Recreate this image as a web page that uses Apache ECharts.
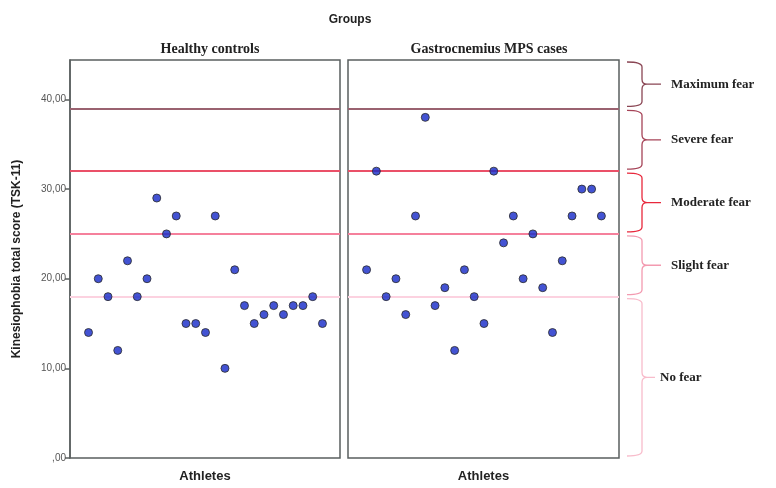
<!DOCTYPE html>
<html><head><meta charset="utf-8">
<script src="https://cdn.jsdelivr.net/npm/echarts@6/dist/echarts.min.js"></script>
<style>html,body{margin:0;padding:0;background:#fff}#c{width:776px;height:488px}</style>
</head><body><div id="c"></div>
<script>
const panels = ['Healthy controls', 'Gastrocnemius MPS cases'];
const athleteIndex = [1,2,3,4,5,6,7,8,9,10,11,12,13,14,15,16,17,18,19,20,21,22,23,24,25];
const healthyScores = [14,20,18,12,22,18,20,29,25,27,15,15,14,27,10,21,17,15,16,17,16,17,17,18,15];
const mpsScores = [21,32,18,20,16,27,38,17,19,12,21,18,15,32,24,27,20,25,19,14,22,27,30,30,27];
const yTicks = [0,10,20,30,40];
const thresholds = [39,32,25,18];
const thresholdColors = ['#9a6270','#ea5068','#f5809c','#fcd2e0'];
const fearBands = [
  {name:'Maximum fear', lo:39, hi:44.4, color:'#8a4654'},
  {name:'Severe fear', lo:32, hi:39, color:'#a64458'},
  {name:'Moderate fear', lo:25, hi:32, color:'#e8283c'},
  {name:'Slight fear', lo:18, hi:25, color:'#f39ab0'},
  {name:'No fear', lo:0, hi:18, color:'#f8bccb'}
];

const chart = echarts.init(document.getElementById('c'));
const pts = arr => arr.map((v,i)=>[athleteIndex[i], v]);
const markLine = {
  silent:true, symbol:'none', label:{show:false}, z:2,
  data: thresholds.map((t,i)=>({yAxis:t, lineStyle:{color:thresholdColors[i], width:2, type:'solid', opacity:1}}))
};
const grids = [
  {left:70, top:60, width:270, height:403, show:true, borderColor:'#5a5f5f', borderWidth:1.5, backgroundColor:'#fff'},
  {left:348, top:60, width:271, height:403, show:true, borderColor:'#5a5f5f', borderWidth:1.5, backgroundColor:'#fff'}
];
const xAxes = [0,1].map(i=>({
  type:'value', gridIndex:i, min:-0.9, max:26.8,
  axisLine:{show:false, onZero:false}, axisTick:{show:false}, axisLabel:{show:false}, splitLine:{show:false},
  name:'Athletes', nameLocation:'middle', nameGap:12,
  nameTextStyle:{fontFamily:'Liberation Sans', fontWeight:'bold', fontSize:13, color:'#222'}
}));
const yAxes = [0,1].map(i=>({
  type:'value', gridIndex:i, min:0, max:44.4, interval:10,
  axisLine:{show:i===0, onZero:false, lineStyle:{color:'#5a5f5f', width:1.5}},
  axisTick:{show:i===0, length:5, lineStyle:{color:'#5a5f5f', width:1.5}},
  axisLabel:{show:i===0, showMaxLabel:false, fontFamily:'Liberation Sans', fontSize:10, color:'#555', margin:4,
    formatter: v => yTicks.includes(v) ? (v===0 ? ',00' : v.toFixed(2).replace('.',',')) : ''},
  splitLine:{show:false},
  name: i===0 ? 'Kinesiophobia total score (TSK-11)' : '',
  nameLocation:'middle', nameGap:47, nameRotate:90,
  nameTextStyle:{fontFamily:'Liberation Sans', fontWeight:'bold', fontSize:12, color:'#222'}
}));
const scatterStyle = {color:'#1428c8', borderColor:'#2a2a2a', borderWidth:1};
const braceSeries = {
  type:'custom', xAxisIndex:1, yAxisIndex:1, clip:false, silent:true, z:5,
  data: fearBands.map(b=>[0, b.lo, b.hi]),
  encode:{x:0, y:[1,2]},
  renderItem:(params, api)=>{
    const b = fearBands[params.dataIndex];
    const cs = params.coordSys;
    const top = api.coord([0, api.value(2)])[1] + 2;
    const bot = api.coord([0, api.value(1)])[1] - 2;
    const mid = (top+bot)/2;
    const x0 = cs.x + cs.width + 8, x1 = x0 + 15, r = 5, xt = x1 + (b.name==='No fear' ? 13 : 19);
    const d = `M${x0},${top} Q${x1},${top} ${x1},${top+r} L${x1},${mid-r} Q${x1},${mid} ${x1+r},${mid} L${xt},${mid} M${x1+r},${mid} Q${x1},${mid} ${x1},${mid+r} L${x1},${bot-r} Q${x1},${bot} ${x0},${bot}`;
    return {type:'group', children:[
      {type:'path', shape:{pathData:d}, style:{fill:null, stroke:b.color, lineWidth:1.3}},
      {type:'text', style:{x:xt+ (b.name==='No fear'?5:10), y:mid, text:b.name, fill:'#222', font:'bold 13px "Liberation Serif"', verticalAlign:'middle', align:'left'}}
    ]};
  }
};
chart.setOption({
  animation:false,
  backgroundColor:'#fff',
  title:[
    {text:'Groups', left:345, top:9, textAlign:'center', textStyle:{fontFamily:'Liberation Sans', fontWeight:'bold', fontSize:12, color:'#222'}},
    {text:panels[0], left:205, top:37, textAlign:'center', textStyle:{fontFamily:'Liberation Serif', fontWeight:'bold', fontSize:14, color:'#222'}},
    {text:panels[1], left:484, top:37, textAlign:'center', textStyle:{fontFamily:'Liberation Serif', fontWeight:'bold', fontSize:14, color:'#222'}}
  ],
  grid:grids, xAxis:xAxes, yAxis:yAxes,
  series:[
    {type:'scatter', xAxisIndex:0, yAxisIndex:0, data:pts(healthyScores), symbolSize:8, itemStyle:scatterStyle, markLine:markLine, z:3},
    {type:'scatter', xAxisIndex:1, yAxisIndex:1, data:pts(mpsScores), symbolSize:8, itemStyle:scatterStyle, markLine:markLine, z:3},
    braceSeries
  ]
});
</script></body></html>
